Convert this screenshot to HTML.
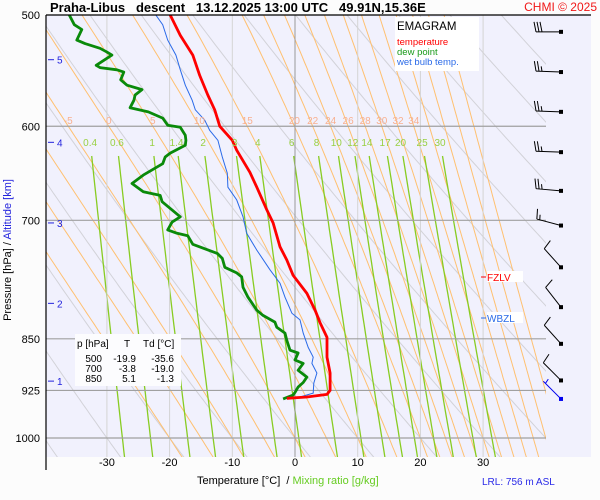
<!DOCTYPE html>
<html><head><meta charset="utf-8"><style>
html,body{margin:0;padding:0;background:#fcfcfc;}
svg{display:block;font-family:"Liberation Sans",sans-serif;}
</style></head><body>
<svg id="chart" width="600" height="500" viewBox="0 0 600 500">
<rect x="46" y="15" width="545" height="442" fill="#f1f1fd"/>
<defs><clipPath id="clip"><rect x="46" y="15" width="500" height="442"/></clipPath></defs>
<g id="grid" clip-path="url(#clip)"></g>
<g id="series" clip-path="url(#clip)"></g>
<g id="labels"></g>
<line x1="46" y1="15" x2="591" y2="15" stroke="#000" stroke-width="1.2"/>
<line x1="46" y1="15" x2="46" y2="470" stroke="#000" stroke-width="1.2"/>
<text x="50" y="12" font-size="13" font-weight="bold" xml:space="preserve">Praha-Libus   descent   13.12.2025 13:00 UTC   49.91N,15.36E</text>
<text x="597" y="11" font-size="12" fill="#f01818" text-anchor="end">CHMI © 2025</text>
<rect x="395" y="17" width="84" height="54" fill="#fff"/>
<text x="397" y="30" font-size="11.5">EMAGRAM</text>
<text x="397" y="45" font-size="9.5" fill="#f00">temperature</text>
<text x="397" y="55" font-size="9.5" fill="#1a9a1a">dew point</text>
<text x="397" y="65" font-size="9.5" fill="#2a6ae8">wet bulb temp.</text>
<rect x="75" y="334" width="106" height="52" fill="#fcfcfe"/>
<g font-size="10">
<text x="77" y="347">p [hPa]</text><text x="127" y="347" text-anchor="middle">T</text><text x="143" y="347">Td [°C]</text>
<text x="102" y="362" text-anchor="end">500</text><text x="136" y="362" text-anchor="end">-19.9</text><text x="174" y="362" text-anchor="end">-35.6</text>
<text x="102" y="372" text-anchor="end">700</text><text x="136" y="372" text-anchor="end">-3.8</text><text x="174" y="372" text-anchor="end">-19.0</text>
<text x="102" y="382" text-anchor="end">850</text><text x="136" y="382" text-anchor="end">5.1</text><text x="174" y="382" text-anchor="end">-1.3</text>
</g>
<line x1="481" y1="277" x2="486" y2="277" stroke="#f00"/>
<rect x="487" y="271" width="36" height="11" fill="#fff"/>
<text x="487" y="281" font-size="10" fill="#f00">FZLV</text>
<line x1="481" y1="318" x2="486" y2="318" stroke="#2a6ae8"/>
<rect x="487" y="312" width="36" height="11" fill="#fff"/>
<text x="487" y="322" font-size="10" fill="#2a6ae8">WBZL</text>
<text x="482" y="485" font-size="10" fill="#2a2ae8">LRL: 756 m ASL</text>
<text x="197" y="484" font-size="11" xml:space="preserve">Temperature [°C]  / <tspan fill="#66cc22">Mixing ratio [g/kg]</tspan></text>
<text transform="translate(11,250) rotate(-90)" font-size="11" text-anchor="middle">Pressure [hPa]  / <tspan fill="#2222dd">Altitude [km]</tspan></text>
<g id="winds"></g>
</svg>
<script>
const tempP=[500,517,534,552,570,584,600,614,624,647,663,688,703,731,747,766,789,811,828,848,876,899,925,931,935,937];
const tempT=[-19.9,-18.3,-16.3,-15.2,-13.9,-12.8,-12.0,-10.0,-9.3,-7.2,-6.1,-4.5,-3.5,-2.4,-1.3,-0.3,1.9,3.2,4.0,5.1,5.1,5.6,5.6,5.1,1.9,-1.3];
const dewP=[500,508,512,521,524,528,531,534,543,545,547,549,556,561,565,570,575,582,586,592,599,601,609,614,619,627,631,638,650,659,668,672,679,696,702,711,715,718,728,739,745,756,763,768,781,794,811,818,827,834,842,852,866,870,880,885,895,905,913,920,928,932,938];
const dewT=[-36.0,-35.2,-34.0,-34.8,-33.5,-31.1,-30.1,-29.2,-31.7,-31.1,-28.4,-27.3,-27.8,-26.8,-24.4,-25.5,-25.7,-26.3,-23.4,-21.1,-20.3,-18.3,-17.5,-17.4,-17.5,-19.9,-20.7,-21.1,-24.2,-26.0,-24.2,-21.5,-21.2,-18.3,-19.6,-20.3,-18.8,-17.1,-16.3,-12.4,-11.6,-11.2,-9.3,-8.5,-8.3,-7.5,-6.1,-5.1,-3.2,-2.9,-1.6,-1.3,-0.8,0.5,0.0,1.3,0.5,1.9,1.3,0.5,0.0,-0.3,-1.9];
const wetP=[500,508,521,534,547,561,575,584,594,604,614,631,648,663,677,696,715,735,759,776,794,815,824,842,862,876,885,899,914,929,935,937];
const wetT=[-22.2,-21.1,-20.3,-19.0,-18.3,-17.5,-16.4,-15.9,-14.4,-13.6,-12.3,-11.6,-10.8,-10.7,-9.3,-8.3,-7.7,-6.1,-4.0,-2.4,-1.6,-0.5,0.8,1.3,2.1,2.9,2.7,3.5,3.0,2.9,0.8,-0.3];
const windP=[514,549,586,626,667,706,756,807,857,910,938];
const windDir=[270,272,272,272,275,285,318,322,318,315,315];
const windSpd=[30,25,25,25,25,15,10,10,10,10,5];
const isobars=[500,600,700,850,925,1000];
const isotherms=[-30,-20,-10,0,10,20,30];
const mixRatios=[0.4,0.6,1,1.4,2,3,4,6,8,10,12,14,17,20,25,30];
const thetaW=[-20,-15,-10,-5,0,5,10,15,20,22,24,26,28,30,32,34,36,38,40,42];
const thetaWLabels=[-5,0,5,10,15,20,22,24,26,28,30,32,34];
const thetaDry=[-60,-50,-40,-30,-20,-10,0,10,20,30,40,50,60,70,80,90,100];
const altKm=[1,2,3,4,5];
const altP=[911,802,703,616,538];

const NS='http://www.w3.org/2000/svg';
const X=t=>295+t*6.27;
const Y=p=>15+Math.log(p/500)/Math.LN2*423;
const grid=document.getElementById('grid'),ser=document.getElementById('series'),lab=document.getElementById('labels'),winds=document.getElementById('winds');
function mk(tag,parent,at){const e=document.createElementNS(NS,tag);for(const k in at)e.setAttribute(k,at[k]);parent.appendChild(e);return e;}
function pts(ps,ts){return ps.map((p,i)=>X(ts[i]).toFixed(1)+','+Y(p).toFixed(1)).join(' ');}
const lv=[];for(let p=1040;p>=480;p-=5)lv.push(p);
thetaDry.forEach(th=>{const ts=lv.map(p=>(th+273.15)*Math.pow(p/1000,0.286)-273.15);
 const e=mk('polyline',grid,{points:pts(lv,ts),fill:'none',stroke:'#d2d2d8','stroke-width':'1'});
 
 });
function es(T){return 6.112*Math.exp(17.67*T/(T+243.5));}
function moist(tw){const res={};
 function step(T,p,dp){const Tc=T-273.15;const rs=0.622*es(Tc)/(p-es(Tc));const Lv=2.5e6,Rd=287,Cp=1005;
  const g=(Rd*T+Lv*rs)/(Cp+Lv*Lv*rs*0.622/(Rd*T*T));return T+g/p*dp;}
 const T=tw+273.15;res[1000]=tw;let t=T;for(let q=1000;q<1040;q+=1){t=step(t,q,1);if((q+1)%5==0)res[q+1]=t-273.15;}
 t=T;for(let q=1000;q>480;q-=1){t=step(t,q,-1);if((q-1)%5==0)res[q-1]=t-273.15;}
 return res;}
const moistAt600={};
thetaW.forEach(tw=>{const r=moist(tw);const ts=lv.map(p=>r[p]);moistAt600[tw]=r[600];
 const e=mk('polyline',grid,{points:pts(lv,ts),fill:'none',stroke:'#ffc070','stroke-width':'1'});
 
 });
function tw_of(w,p){const e=w*p/(622+w);const l=Math.log(e/6.112);return 243.5*l/(17.67-l);}
const mlv=[];for(let p=630;p<=1040;p+=10)mlv.push(p);
mixRatios.forEach(w=>{const ts=mlv.map(p=>tw_of(w,p));
 const e=mk('polyline',grid,{points:pts(mlv,ts),fill:'none',stroke:'#88cc22','stroke-width':'1.3'});
 
 
 const t=mk('text',lab,{x:X(tw_of(w,615)).toFixed(1),y:146,'font-size':'10',fill:'#99d044','text-anchor':'middle'});t.textContent=String(w);
 
 });
isotherms.forEach(t=>{const e=mk('line',grid,{x1:X(t),x2:X(t),y1:15,y2:457,stroke:t==0?'#999':'#d4d4d4','stroke-width':'1'});
 
 
 const l=mk('text',lab,{x:X(t),y:466,'font-size':'11','text-anchor':'middle'});l.textContent=String(t);
 
 });
isobars.forEach(p=>{if(p>500){const e=mk('line',grid,{x1:46,x2:546,y1:Y(p),y2:Y(p),stroke:'#a0a0a0','stroke-width':'1.2'});
 
 }
 const l=mk('text',lab,{x:40,y:Y(p)+4,'font-size':'11','text-anchor':'end'});l.textContent=String(p);
 
 });
thetaWLabels.forEach(tw=>{const l=mk('text',lab,{x:X(moistAt600[tw]).toFixed(1),y:124,'font-size':'10',fill:'#f8b090','text-anchor':'middle'});l.textContent=String(tw);
 
 });
altKm.forEach((k,i)=>{const y=Y(altP[i]);const t=mk('line',lab,{x1:48,x2:54,y1:y,y2:y,stroke:'#2222dd'});
 
 
 const l=mk('text',lab,{x:57,y:y+4,'font-size':'10',fill:'#2222dd'});l.textContent=String(k);
 
 });
const s1=mk('polyline',ser,{points:pts(wetP,wetT),fill:'none',stroke:'#2a6ae8','stroke-width':'1'});


const s2=mk('polyline',ser,{points:pts(dewP,dewT),fill:'none',stroke:'#0a8a0a','stroke-width':'2.8','stroke-linejoin':'round'});


const s3=mk('polyline',ser,{points:pts(tempP,tempT),fill:'none',stroke:'#f00','stroke-width':'2.8','stroke-linejoin':'round'});


windP.forEach((p,i)=>{const d=windDir[i]*Math.PI/180;const ux=Math.sin(d),uy=-Math.cos(d);
 const bx=-uy,by=ux; const x0=561,y0=Y(p);const L=25;const col=i==windP.length-1?'#0000ee':'#000';
 const g=mk('g',winds,{stroke:col,'stroke-width':'1',fill:'none'});
 
 
 const ex=x0+ux*L,ey=y0+uy*L;
 mk('line',g,{x1:x0,y1:y0,x2:ex,y2:ey});
 mk('rect',g,{x:x0-2,y:y0-2,width:4,height:4,fill:col,stroke:'none'});
 let s=windSpd[i],k=0;
 while(s>=10){const sx=ex-ux*k*3,sy=ey-uy*k*3;mk('line',g,{x1:sx,y1:sy,x2:sx+bx*10+ux*2,y2:sy+by*10+uy*2});s-=10;k++;}
 if(s>=5){if(k==0)k=1;const sx=ex-ux*k*3,sy=ey-uy*k*3;mk('line',g,{x1:sx,y1:sy,x2:sx+bx*5+ux*1,y2:sy+by*5+uy*1});}
});
</script>
</body></html>
